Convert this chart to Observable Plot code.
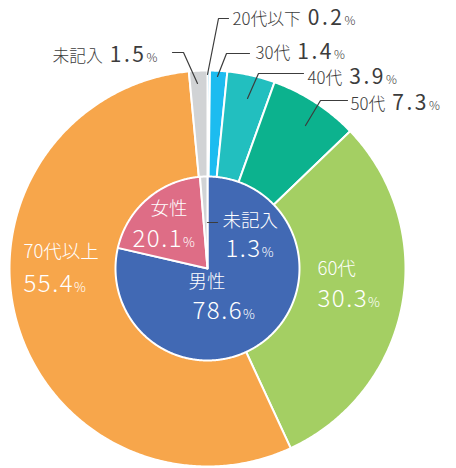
<!DOCTYPE html>
<html><head><meta charset="utf-8">
<script src="https://cdn.jsdelivr.net/npm/d3@7"></script>
<script src="https://cdn.jsdelivr.net/npm/@observablehq/plot@0.6"></script>
<style>body{margin:0;background:#fff} svg{display:block}</style>
</head><body><div id="chart"></div>
<script>
// ---- data ----
const ageCategories = ["20代以下","30代","40代","50代","60代","70代以上","未記入"];
const ageValues = [0.2, 1.4, 3.9, 7.3, 30.3, 55.4, 1.5];
const ageColors = ["#1aa6e0","#1cbcf0","#22bfbf","#0cb28e","#a4cf63","#f7a64b","#d1d3d5"];
const genderCategories = ["男性","女性","未記入"];
const genderValues = [78.6, 20.1, 1.3];
const genderColors = ["#4169b4","#de6d86","#d1d3d5"];

// ---- layout ----
const W = 456, H = 468, CX = 207, CY = 268, R_OUT = 198, R_IN = 92;
const outerLabelLayout = {
  "20代以下": {x: 232, y: 18, leader: [[207,74],[218,18],[228,18]]},
  "30代":     {x: 255, y: 52, leader: [[217,76],[226,53],[249,53]]},
  "40代":     {x: 307, y: 77, leader: [[247,98],[258,73],[303,73]]},
  "50代":     {x: 350, y: 103, leader: [[305,125],[320,100],[347,100]]},
  "未記入":   {x: 52,  y: 55, leader: [[197,83],[183,52],[172,52]]}
};
const insideLabelLayout = [
  {cat: "60代", set: "age", x: 317, y: 269, y2: 299},
  {cat: "70代以上", set: "age", x: 23, y: 252, y2: 284},
  {cat: "女性", set: "gender", x: 150, y: 209, y2: 239, x2: 132},
  {cat: "未記入", set: "gender", x: 222, y: 221, y2: 249, x2: 225, leader: [[207,222],[217,222]]},
  {cat: "男性", set: "gender", x: 188, y: 282, y2: 311, x2: 192}
];

function wedges(cats, vals, colors, r) {
  const arcs = d3.pie().sort(null).value(d => d.v).startAngle(0).endAngle(2 * Math.PI)(
    cats.map((c, i) => ({c, v: vals[i], color: colors[i]})));
  const pts = [];
  arcs.forEach((a, i) => {
    const key = a.data.c + "#" + i;
    pts.push({key, color: a.data.color, x: CX, y: CY});
    const n = Math.max(2, Math.ceil((a.endAngle - a.startAngle) / (Math.PI / 360)));
    for (let k = 0; k <= n; k++) {
      const t = a.startAngle + (a.endAngle - a.startAngle) * k / n;
      pts.push({key, color: a.data.color, x: CX + r * Math.sin(t), y: CY - r * Math.cos(t)});
    }
  });
  return pts;
}
const outerPts = wedges(ageCategories, ageValues, ageColors, R_OUT);
const innerPts = wedges(genderCategories, genderValues, genderColors, R_IN);

const valOf = (set, cat) => set === "age" ? ageValues[ageCategories.indexOf(cat)] : genderValues[genderCategories.indexOf(cat)];

const outerLabels = Object.entries(outerLabelLayout).map(([cat, l]) => ({
  text: `${cat} ${valOf("age", cat).toFixed(1)}%`, x: l.x, y: l.y}));
const leaders = [];
Object.entries(outerLabelLayout).forEach(([cat, l]) => l.leader.forEach(p => leaders.push({key: "o" + cat, x: p[0], y: p[1]})));
insideLabelLayout.filter(d => d.leader).forEach(d => d.leader.forEach(p => leaders.push({key: "i" + d.cat, x: p[0], y: p[1]})));

const insideNames = insideLabelLayout.map(d => ({text: d.cat, x: d.x, y: d.y}));
const insideValues = insideLabelLayout.map(d => ({text: `${valOf(d.set, d.cat).toFixed(1)}%`, x: d.x2 ?? d.x, y: d.y2}));

const FONT = "'Noto Sans CJK JP', 'Noto Sans', sans-serif";
const chart = Plot.plot({
  width: W, height: H, margin: 0,
  style: {fontFamily: FONT, background: "#fff"},
  x: {domain: [0, W], range: [0, W], axis: null},
  y: {domain: [0, H], range: [0, H], axis: null},
  color: {type: "identity"},
  marks: [
    Plot.line(outerPts, {x: "x", y: "y", z: "key", fill: "color", stroke: "white", strokeWidth: 2, strokeLinejoin: "round", curve: "linear-closed"}),
    Plot.line(innerPts, {x: "x", y: "y", z: "key", fill: "color", stroke: "white", strokeWidth: 2, strokeLinejoin: "round", curve: "linear-closed"}),
    Plot.line(leaders, {x: "x", y: "y", z: "key", stroke: "#3c3c3c", strokeWidth: 1.2}),
    Plot.text(outerLabels, {x: "x", y: "y", text: "text", textAnchor: "start", fill: "#3c3c3c", fontSize: 21, fontWeight: 300, className: "lbl-outer"}),
    Plot.text(insideNames, {x: "x", y: "y", text: "text", textAnchor: "start", fill: "white", fontSize: 18.5, fontWeight: 300}),
    Plot.text(insideValues, {x: "x", y: "y", text: "text", textAnchor: "start", fill: "white", fontSize: 24, fontWeight: 300, className: "lbl-val"})
  ]
});

// split "name number%" into differently sized parts
chart.querySelectorAll("text").forEach(t => {
  const m = t.textContent.match(/^(.*?)\s?([\d.]+)(%)$/);
  if (!m) return;
  const outer = t.closest(".lbl-outer") !== null;
  t.textContent = "";
  const ns = "http://www.w3.org/2000/svg";
  if (m[1]) {
    const a = document.createElementNS(ns, "tspan");
    a.textContent = m[1]; a.setAttribute("font-size", "0.8em");
    t.appendChild(a);
  }
  const b = document.createElementNS(ns, "tspan");
  b.textContent = m[2]; b.setAttribute("letter-spacing", outer ? "2.5" : "1.5");
  if (outer) b.setAttribute("font-weight", "400");
  if (m[1]) b.setAttribute("dx", "7");
  t.appendChild(b);
  const c = document.createElementNS(ns, "tspan");
  c.textContent = m[3]; c.setAttribute("font-size", outer ? "0.58em" : "0.55em");
  t.appendChild(c);
});
document.getElementById("chart").appendChild(chart);
</script></body></html>
